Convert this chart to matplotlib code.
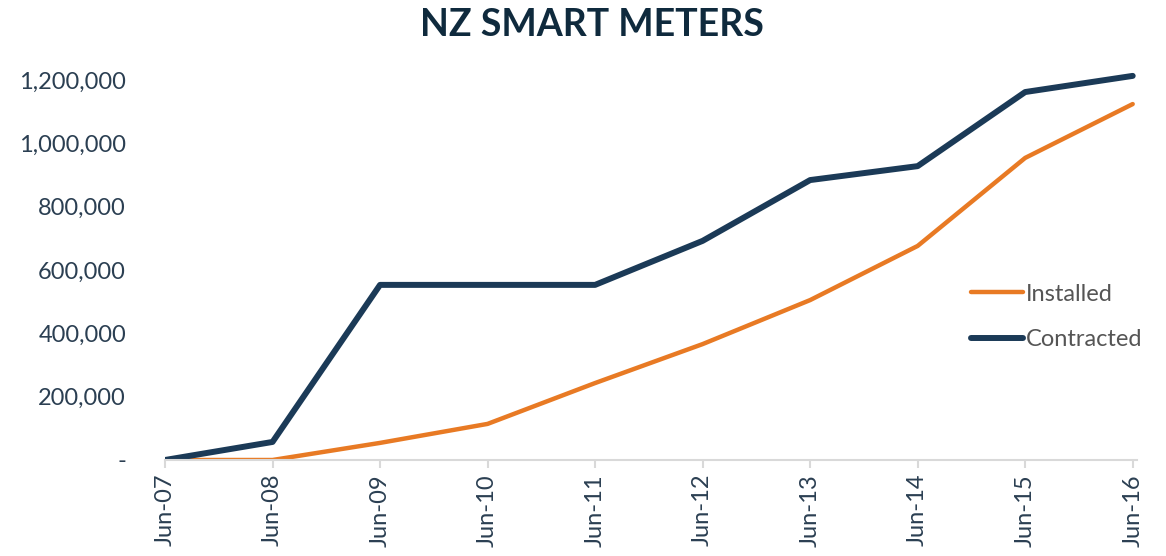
import matplotlib
matplotlib.use('Agg')
from matplotlib import pyplot as plt
from matplotlib.ticker import FuncFormatter

# data
periods = ['Jun-07', 'Jun-08', 'Jun-09', 'Jun-10', 'Jun-11',
           'Jun-12', 'Jun-13', 'Jun-14', 'Jun-15', 'Jun-16']
installed = [0, 0, 54000, 114000, 243000, 366000, 505000, 676000, 954000, 1124000]
contracted = [0, 57000, 553000, 553000, 553000, 692000, 884000, 928000, 1162000, 1213000]
y_ticks = [0, 200000, 400000, 600000, 800000, 1000000, 1200000]

orange = '#E87A24'
navy = '#1B3A57'
text_col = '#2B3F52'

plt.rcParams['font.family'] = ['Lato', 'DejaVu Sans']

fig = plt.figure(figsize=(11.66, 5.56), dpi=100)
ax = fig.add_axes([165 / 1166, 96 / 556, 972 / 1166, 399 / 556])

x = list(range(len(periods)))
ax.plot(x, installed, color=orange, lw=3.2, label='Installed', solid_capstyle='round')
ax.plot(x, contracted, color=navy, lw=4.3, label='Contracted', solid_capstyle='round')

ax.set_xlim(0, len(periods) - 1 + 0.04)
ax.set_ylim(0, 1260000)
ax.set_yticks(y_ticks)
ax.yaxis.set_major_formatter(FuncFormatter(lambda v, p: '-' if v == 0 else f'{int(v):,}'))
ax.set_xticks(x)
ax.set_xticklabels(periods, rotation=90)

for s in ['top', 'right', 'left']:
    ax.spines[s].set_visible(False)
ax.spines['bottom'].set_color('#D9D9D9')
ax.spines['bottom'].set_linewidth(1.5)
ax.tick_params(axis='y', length=0, pad=28, labelsize=17, labelcolor=text_col)
ax.tick_params(axis='x', length=6, color='#D9D9D9', width=1.5, pad=4,
               labelsize=17, labelcolor=text_col)

fig.suptitle('NZ SMART METERS', x=0.508, y=0.985, fontsize=27, fontweight='bold',
             color='#0F2A3D')

leg = ax.legend(loc='center left', frameon=False, fontsize=17,
                handlelength=2.2, handletextpad=0.1, labelspacing=1.05,
                bbox_to_anchor=(950 / 1166, 1 - 317 / 556), bbox_transform=fig.transFigure)
for t in leg.get_texts():
    t.set_color('#555555')

fig.savefig('out.png', dpi=100)
